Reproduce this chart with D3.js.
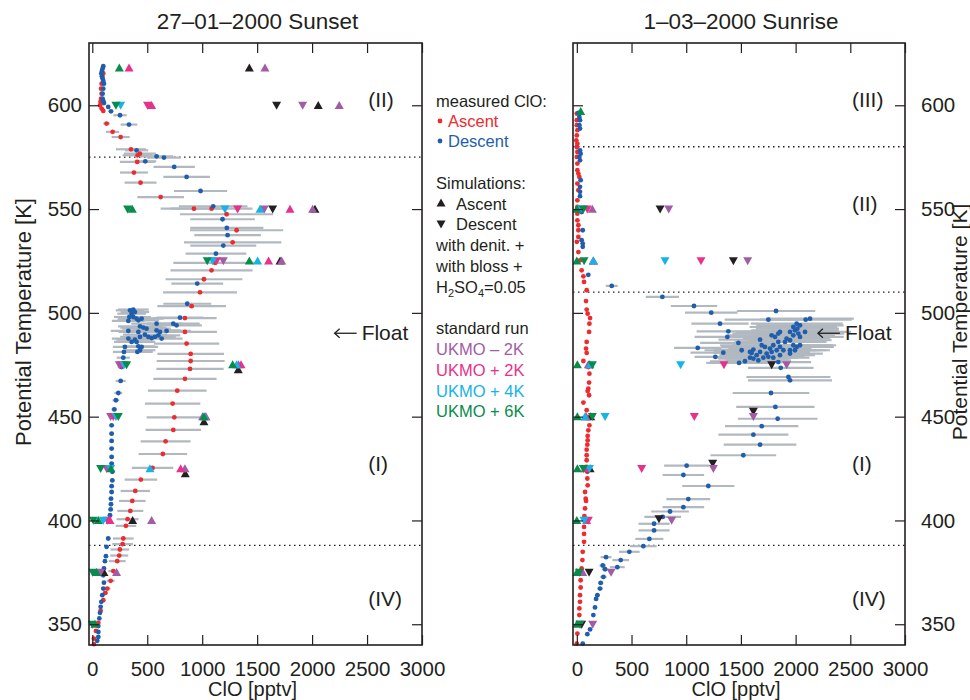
<!DOCTYPE html>
<html>
<head>
<meta charset="utf-8">
<script src="https://cdnjs.cloudflare.com/ajax/libs/d3/7.8.5/d3.min.js"></script>
<style>
  body { margin: 0; background: #fff; }
  text { font-family: "Liberation Sans", Arial, Helvetica, sans-serif; fill: #231f20; }
</style>
</head>
<body>
<svg id="chart" width="970" height="700"></svg>
<script>
// ---- data: [theta (K), ClO (pptv), error (pptv)] ----
const sunsetAscent = [
  [615.3,100,0],[613.6,90,0],[610.4,85,0],[608,80,0],[605.6,85,0],[603.2,80,0],[601.6,75,0],[600,70,0],[598.4,85,0],[597.3,100,0],
  [591.2,130,30],[587.2,185,60],[584.7,258,82],[578.8,352,136],[576.7,433,145],[575.9,412,136],[572.7,409,158],[567.6,379,127],
  [562.7,439,145],[555.8,622,212],[550.2,925,303],[550.2,1085,373],[547.5,1222,424],[539.8,1313,424],[534,1277,443],[524.1,1116,379],
  [520.5,1085,373],[516.2,1016,349],[509.9,980,336],[503.2,904,312],[497.5,843,288],[490.8,843,291],[485.2,858,297],[480.2,895,303],
  [476.8,895,309],[473,889,306],[468.2,843,288],[462.5,773,267],[456.3,731,252],[449.7,746,252],[443.6,737,252],[438.1,667,227],
  [432,642,221],[425.3,548,188],[419.7,442,148],[414.2,391,133],[409.4,364,121],[404.6,346,118],[400.6,321,100],[397.4,306,94],
  [391.3,282,94],[388.6,276,94],[386,251,85],[383.1,245,82],[380.4,227,76],[375.6,191,45],[370.9,167,36],[367.2,136,30],
  [365.1,118,24],[361.6,100,15],[356.5,76,10],[350.7,55,0],[346.8,33,0],[343.1,15,0],[340.4,15,0]
];
const sunsetDescent = [
  [618.8,100,0],[617.7,94,0],[616.5,88,0],[615.3,82,0],[614,88,0],[612.8,94,0],[611.7,100,0],[610.4,106,0],[608,100,0],
  [605.6,94,0],[603.2,94,0],[602.1,100,0],[601.1,106,0],[599.2,145,0],[597.1,170,20],[595.2,252,61],[590.7,334,76],
  [578.3,403,106],[575.4,585,152],[574.8,652,152],[573,482,100],[570.3,745,188],[565.5,858,212],[558.7,985,242],[551.3,1100,312],
  [545.1,1185,294],[540.9,1224,333],[537.4,1231,303],[532.4,1192,300],[528.5,1125,276],[514.1,955,236],[504.4,864,218],[497.7,798,212],
  [501.2,343,130],[501.6,373,140],[500.4,388,130],[499.6,358,130],[498,337,140],[498,373,160],[497.2,403,170],[497.2,449,200],
  [496.1,328,150],[496.4,419,190],[494.8,585,230],[494.8,737,240],[494,767,230],[493.5,434,200],[492.9,464,210],[492.4,494,220],
  [491.3,328,160],[490.8,419,180],[491.6,585,220],[490.8,616,230],[491.3,676,220],[489.5,479,200],[488.4,510,210],[487.9,540,200],
  [488.4,570,190],[489.2,601,200],[487.6,631,190],[488.4,434,180],[487.1,388,170],[486,358,160],[486,403,170],[483.9,419,150],
  [482,434,140],[481.2,410,140],[483.6,449,150],[483.6,297,110],[481.2,288,100],[478.4,282,60],[487.6,328,150],
  [473.9,267,36],[467.2,258,45],[461.4,237,36],[457.9,215,30],[453.5,200,25],[449.9,182,24],[445.8,176,22],[441.8,176,22],
  [438.3,176,22],[434.6,176,22],[430.6,176,22],[427.4,176,22],[423.4,182,22],[419.3,182,22],[416.5,176,22],[413.7,176,22],
  [410.5,170,22],[407.8,170,20],[405.3,167,20],[402.5,161,20],[391.3,145,20],[387.3,130,20],[382.8,124,18],[380.4,115,18],
  [376.9,106,15],[373.6,100,15],[370,106,15],[367.2,100,15],[364,91,12],[360.8,82,12],[358.4,76,10],[355.5,70,10],
  [352.8,64,10],[349.1,55,8],[346.3,55,8],[343.9,55,8],[342,45,8]
];
const sunriseAscent = [
  [596,0,0],[592.8,0,0],[590.4,0,0],[588,5,0],[585.5,0,0],[583.1,-5,0],[581.5,5,0],[579.9,0,0],[577.5,5,0],[575.1,0,0],
  [571.9,5,0],[568.7,5,0],[567.1,14,0],[565.5,23,0],[562.3,5,0],[559.1,14,0],[554.2,5,0],[551,5,0],[547.8,5,0],[544.6,5,0],
  [542.2,14,0],[539.8,14,0],[536.6,14,0],[534.2,0,0],[529.3,14,0],[525.3,29,0],[520.5,44,0],[517.6,60,0],[514.9,66,0],
  [510.9,90,0],[505.7,84,0],[501.6,90,0],[499.6,99,0],[497.5,121,0],[494.8,115,0],[490.8,112,0],[486,90,0],[482.8,84,0],
  [480.7,90,0],[476.8,60,0],[473.9,105,0],[470.7,115,0],[466.4,112,0],[463.5,105,0],[462.4,99,0],[460.3,112,0],[456.8,60,0],
  [453.1,90,0],[449.9,115,0],[445.8,115,0],[443.4,105,0],[440.7,99,0],[438.6,99,0],[436.5,96,0],[434.1,90,0],[431.4,90,0],
  [429,90,0],[425.8,90,0],[423.4,96,0],[420.2,96,0],[416.9,99,0],[413.7,75,0],[410.5,81,0],[409.4,84,0],[405.8,75,0],
  [402.1,69,0],[396.9,66,0],[393.5,66,0],[389.7,66,0],[384.9,54,0],[380.9,51,0],[376.9,44,0],[371.2,35,0],[367.7,35,0],
  [364,29,0],[360.8,29,0],[357.6,23,0],[354.4,23,0],[350.4,14,0],[345.5,5,0],[340.7,0,0]
];
const sunriseDescent = [
  [596.3,14,0],[594.4,23,0],[592.8,29,0],[590.4,23,0],[588.8,29,0],[578.3,29,0],[576.7,35,0],[575.1,23,0],[573.5,29,0],
  [563.9,35,0],[560.7,29,0],[558.3,29,0],[556.2,29,0],[548.6,44,0],[539.8,54,0],[535,44,0],[533.4,54,0],[531.8,54,0],
  [518.3,105,15],[513,319,55],[507.7,782,152],[503.3,1071,212],[500.1,1229,240],[500.9,1821,358],[496.7,1751,400],
  [494.8,1309,262],[496.7,2092,420],[497.2,2132,400],[491.1,1385,290],[488.4,1376,300],[485.5,1477,350],[483.1,1105,216],
  [480.8,1339,300],[478.8,1266,190],[475.9,1483,300],[476.7,1537,320],[473.5,1864,300],[469.1,1934,384],[467.5,1949,384],
  [461.4,1775,350],[454.7,1815,358],[449,1836,364],[445.4,1690,335],[441.3,1614,320],[436.5,1675,332],[431.4,1522,300],
  [426.4,1004,206],[421.9,974,190],[416.6,1202,238],[410.3,1019,200],[406.4,974,190],[404.3,852,172],[401.7,785,168],
  [398.4,706,142],[395.2,706,142],[391.1,663,128],[387.6,608,122],[384.9,480,94],[380.9,401,76],[382.3,267,50],
  [378.3,237,30],[376.5,258,30],[377.5,370,68],[372.8,243,30],[369.9,218,25],[367.2,212,25],[364,188,22],[362.2,176,20],
  [358.1,166,18],[354.4,151,15],[347.5,121,12],[345.2,96,10],[340.7,54,8],
  [490.8,1857,400],[490,1842,420],[489.2,1781,400],[488.4,1812,420],[490.8,1949,420],[493.2,1979,400],[494.8,2010,420],
  [494,2040,400],[492.4,2016,380],[491.6,1994,400],[490,2025,420],[488.4,2040,400],[490.8,2086,420],[489.2,1979,380],
  [487.6,1918,400],[486,1903,380],[486.8,1949,380],[484.4,1979,360],[483.6,2010,340],[486,1842,400],[484.4,1796,380],
  [482.8,1766,380],[483.6,1720,400],[484.4,1690,380],[483.6,1857,360],[482,1827,360],[482,1888,340],[482,1949,330],
  [481.2,1781,350],[480.4,1735,360],[481.2,1675,360],[479.6,1644,340],[480.7,1598,350],[478.4,1583,320],[478,1614,320],
  [477.1,1659,300],[478.4,1705,320],[478.8,1751,330],[478.4,1796,330],[479.6,1857,320],[482,1507,340],[481.2,1583,330],
  [487.1,1675,380],[482.3,1614,360],[476.3,1842,300],[480.4,1949,300],[482,1994,320],[484.4,2040,330]
];

// ---- simulations: [run, theta (K), ClO (pptv)] ----
const sunsetSimAscent = [
  ["denit",618,1429],["denit",600,2056],["denit",550,2026],["denit",525,1708],["denit",472.6,1328],["denit",447.6,1016],["denit",422.6,846],["denit",400,367],["denit",375,106],
  ["m2",618,1571],["m2",600,2247],["m2",550,2005],["m2",525,1723],["m2",475,1330],["m2",450,1004],["m2",425,843],["m2",400,540],["m2",375,221],
  ["p2",618,334],["p2",600,540],["p2",550,1799],["p2",525,1604],["p2",475,1353],["p2",450,1034],["p2",425,804],["p2",400,161],
  ["p4",550,1526],["p4",525,1504],["p4",475,1313],["p4",450,1025],["p4",425,525],
  ["p6",618,246],["p6",550,364],["p6",525,1429],["p6",475,1277],["p6",450,1016],["p6",425,170],["p6",400,55],["p6",375,39],["p6",350,24]
];
const sunsetSimDescent = [
  ["denit",600,1677],["denit",550,1641],
  ["m2",600,1914],["m2",550,1565],["m2",525,1192],["m2",475,246],["m2",450,167],["m2",425,130],["m2",375,76],
  ["p2",600,503],["p2",550,1322],["p2",525,1131],["p2",475,267],["p2",450,191],["p2",400,136],
  ["p4",600,258],["p4",550,1207],["p4",525,1095],["p4",475,288],["p4",450,215],["p4",425,167],["p4",400,100],
  ["p6",600,215],["p6",550,321],["p6",525,1046],["p6",475,312],["p6",450,237],["p6",425,76],["p6",400,9],["p6",375,3],["p6",350,0]
];
const sunriseSimAscent = [
  ["denit",450,127],["denit",425,121],
  ["m2",550,142],["m2",525,151],["m2",475,105],["m2",450,82],["m2",400,90],["m2",375,54],
  ["p2",525,151],["p2",475,114],["p2",450,84],["p2",425,75],
  ["p4",525,151],["p4",475,121],["p4",450,75],
  ["p6",597,35],["p6",550,0],["p6",525,0],["p6",475,5],["p6",450,5],["p6",425,5],["p6",400,0],["p6",375,0],["p6",350,0]
];
const sunriseSimDescent = [
  ["denit",550,761],["denit",525,1431],["denit",475,1781],["denit",452.5,1614],["denit",427.5,1242],["denit",400.8,751],["denit",375,112],["denit",350,44],
  ["m2",550,840],["m2",525,1562],["m2",475,1918],["m2",450,1614],["m2",425,1248],["m2",400,867],["m2",375,313],["m2",350,145],
  ["p2",550,96],["p2",525,1135],["p2",475,1345],["p2",450,1074],["p2",425,593],["p2",400,105],
  ["p4",550,35],["p4",525,806],["p4",475,949],["p4",450,258],["p4",425,115],["p4",400,66],
  ["p6",550,60],["p6",525,66],["p6",475,142],["p6",450,142],["p6",425,60],["p6",375,23],["p6",350,29]
];

const runOrder = ["denit", "m2", "p2", "p4", "p6"];
const runColors = { denit: "#231f20", m2: "#a25ca6", p2: "#e8318b", p4: "#14b3e8", p6: "#078c4b" };
const ascentColor = "#ee2b2f";
const descentColor = "#1f5ead";
const barColor = "#b1b8c0";

const xMajor = [0, 500, 1000, 1500, 2000, 2500, 3000];
const xMinor = d3.range(0, 3001, 100);
const yMajor = [350, 400, 450, 500, 550, 600];
const yMinor = d3.range(340, 631, 10);

const svg = d3.select("#chart");
const y = d3.scaleLinear().domain([340, 630]).range([645, 43]);

// triangle marker, pointing up or down
function tri(up) {
  const w = 9, h = 8;
  return up
    ? `M0,${-h * 0.55}L${w / 2},${h * 0.45}L${-w / 2},${h * 0.45}Z`
    : `M0,${h * 0.55}L${w / 2},${-h * 0.45}L${-w / 2},${-h * 0.45}Z`;
}

function drawPanel(p) {
  const x = d3.scaleLinear().domain([p.xmin, 3000]).range([p.left, p.right]);
  const g = svg.append("g");

  // dotted separators
  g.selectAll("line.sep").data(p.separators).join("line")
    .attr("x1", p.left).attr("x2", p.right)
    .attr("y1", d => y(d)).attr("y2", d => y(d))
    .attr("stroke", "#231f20").attr("stroke-width", 1.4)
    .attr("stroke-dasharray", "1.5,3.5");

  // error bars
  const bars = p.ascent.concat(p.descent).filter(d => d[2] > 0);
  g.selectAll("line.err").data(bars).join("line")
    .attr("x1", d => x(d[1] - d[2])).attr("x2", d => x(d[1] + d[2]))
    .attr("y1", d => y(d[0])).attr("y2", d => y(d[0]))
    .attr("stroke", barColor).attr("stroke-width", 2.2);

  g.selectAll("circle.asc").data(p.ascent).join("circle")
    .attr("cx", d => x(d[1])).attr("cy", d => y(d[0])).attr("r", 2.4)
    .attr("fill", ascentColor);
  g.selectAll("circle.desc").data(p.descent).join("circle")
    .attr("cx", d => x(d[1])).attr("cy", d => y(d[0])).attr("r", 2.4)
    .attr("fill", descentColor);

  // simulated values
  runOrder.forEach(run => {
    const up = p.simUp.filter(d => d[0] === run);
    const down = p.simDown.filter(d => d[0] === run);
    g.selectAll(null).data(up).join("path")
      .attr("d", tri(true))
      .attr("transform", d => `translate(${x(d[2])},${y(d[1])})`)
      .attr("fill", runColors[run]);
    g.selectAll(null).data(down).join("path")
      .attr("d", tri(false))
      .attr("transform", d => `translate(${x(d[2])},${y(d[1])})`)
      .attr("fill", runColors[run]);
  });

  // axes, ticks inward on all sides
  const axes = svg.append("g");
  const bottom = axes.append("g").attr("transform", `translate(0,${y(340)})`);
  bottom.call(d3.axisBottom(x).tickValues(xMinor).tickSize(-5).tickFormat(""));
  bottom.call(d3.axisBottom(x).tickValues(xMajor).tickSize(-10).tickPadding(16).tickFormat(d3.format("d")));
  const top = axes.append("g").attr("transform", `translate(0,${y(630)})`);
  top.call(d3.axisTop(x).tickValues(xMinor).tickSize(-5).tickFormat(""));
  top.call(d3.axisTop(x).tickValues(xMajor).tickSize(-10).tickFormat(""));

  const left = axes.append("g").attr("transform", `translate(${p.left},0)`);
  left.call(d3.axisLeft(y).tickValues(yMinor).tickSize(-5).tickFormat(""));
  left.call(d3.axisLeft(y).tickValues(yMajor).tickSize(-10).tickPadding(7)
    .tickFormat(p.yLabels === "left" ? d3.format("d") : ""));
  const right = axes.append("g").attr("transform", `translate(${p.right},0)`);
  right.call(d3.axisRight(y).tickValues(yMinor).tickSize(-5).tickFormat(""));
  right.call(d3.axisRight(y).tickValues(yMajor).tickSize(-10).tickPadding(16)
    .tickFormat(p.yLabels === "right" ? d3.format("d") : ""));

  axes.selectAll(".domain").remove();
  axes.selectAll(".tick line").attr("stroke", "#231f20").attr("stroke-width", 1.2);
  axes.selectAll("text").attr("font-size", 20.5).attr("fill", "#231f20")
    .attr("font-family", "'Liberation Sans', Arial, sans-serif");

  axes.append("rect")
    .attr("x", p.left).attr("y", y(630))
    .attr("width", p.right - p.left).attr("height", y(340) - y(630))
    .attr("fill", "none").attr("stroke", "#231f20").attr("stroke-width", 1.6);

  // titles
  svg.append("text").attr("x", (p.left + p.right) / 2 + 2).attr("y", 29)
    .attr("text-anchor", "middle").attr("font-size", 22.5).text(p.title);
  svg.append("text").attr("x", (p.left + p.right) / 2 - 3).attr("y", 696)
    .attr("text-anchor", "middle").attr("font-size", 20).text("ClO [pptv]");

  // regime labels
  p.regions.forEach(r => {
    svg.append("text").attr("x", x(r[1])).attr("y", y(r[2]))
      .attr("font-size", 21).text(r[0]);
  });

  // "Float" marker with arrow
  const fx = x(p.float[0]), fy = y(p.float[1]);
  const arrow = svg.append("g").attr("stroke", "#231f20").attr("stroke-width", 1.3).attr("fill", "none");
  arrow.append("line").attr("x1", fx).attr("x2", fx + 22).attr("y1", fy - 7).attr("y2", fy - 7);
  arrow.append("path").attr("d", `M${fx + 5},${fy - 11.5}L${fx},${fy - 7}L${fx + 5},${fy - 2.5}`);
  svg.append("text").attr("x", fx + 27).attr("y", fy).attr("font-size", 21).text("Float");
}

const sunsetRegions = [["(II)", 2510, 599], ["(I)", 2510, 424], ["(IV)", 2510, 359]];
const sunriseRegions = [["(III)", 2515, 599], ["(II)", 2515, 549], ["(I)", 2515, 424], ["(IV)", 2515, 359]];

drawPanel({
  title: "27\u201301\u20132000 Sunset", left: 89, right: 422, xmin: -30,
  ascent: sunsetAscent, descent: sunsetDescent, simUp: sunsetSimAscent, simDown: sunsetSimDescent,
  separators: [575, 388], regions: sunsetRegions, float: [2205, 486.8], yLabels: "left"
});
drawPanel({
  title: "1\u201303\u20132000 Sunrise", left: 573, right: 905, xmin: -35,
  ascent: sunriseAscent, descent: sunriseDescent, simUp: sunriseSimAscent, simDown: sunriseSimDescent,
  separators: [580, 510, 388], regions: sunriseRegions, float: [2204, 486.8], yLabels: "right"
});

// y axis titles
svg.append("text").attr("transform", "translate(31,322) rotate(-90)")
  .attr("text-anchor", "middle").attr("font-size", 22).text("Potential Temperature [K]");
svg.append("text").attr("transform", "translate(967,322) rotate(-90)")
  .attr("text-anchor", "middle").attr("font-size", 21).text("Potential Temperature [K]");

// legend in the middle
const lg = svg.append("g").attr("font-size", 16.5);
const lx = 436;
lg.append("text").attr("x", lx).attr("y", 107).text("measured ClO:");
lg.append("circle").attr("cx", lx + 4).attr("cy", 121).attr("r", 2.4).attr("fill", ascentColor);
lg.append("text").attr("x", lx + 12).attr("y", 127).style("fill", ascentColor).text("Ascent");
lg.append("circle").attr("cx", lx + 4).attr("cy", 141).attr("r", 2.4).attr("fill", descentColor);
lg.append("text").attr("x", lx + 12).attr("y", 147).style("fill", descentColor).text("Descent");
lg.append("text").attr("x", lx).attr("y", 189).text("Simulations:");
lg.append("path").attr("d", tri(true)).attr("transform", `translate(${lx + 5},${203})`).attr("fill", runColors.denit);
lg.append("text").attr("x", lx + 20).attr("y", 210).text("Ascent");
lg.append("path").attr("d", tri(false)).attr("transform", `translate(${lx + 5},${224})`).attr("fill", runColors.denit);
lg.append("text").attr("x", lx + 20).attr("y", 230).text("Descent");
lg.append("text").attr("x", lx).attr("y", 251).text("with denit. +");
lg.append("text").attr("x", lx).attr("y", 272).text("with bloss +");
const h2 = lg.append("text").attr("x", lx).attr("y", 293);
h2.append("tspan").text("H");
h2.append("tspan").attr("font-size", 11).attr("dy", 4).text("2");
h2.append("tspan").attr("dy", -4).text("SO");
h2.append("tspan").attr("font-size", 11).attr("dy", 4).text("4");
h2.append("tspan").attr("dy", -4).text("=0.05");
lg.append("text").attr("x", lx).attr("y", 334).text("standard run");
const runLabels = [["m2", "UKMO \u2013 2K"], ["p2", "UKMO + 2K"], ["p4", "UKMO + 4K"], ["p6", "UKMO + 6K"]];
runLabels.forEach((r, i) => {
  lg.append("text").attr("x", lx).attr("y", 355 + i * 20.8).style("fill", runColors[r[0]]).text(r[1]);
});
</script>
</body>
</html>
